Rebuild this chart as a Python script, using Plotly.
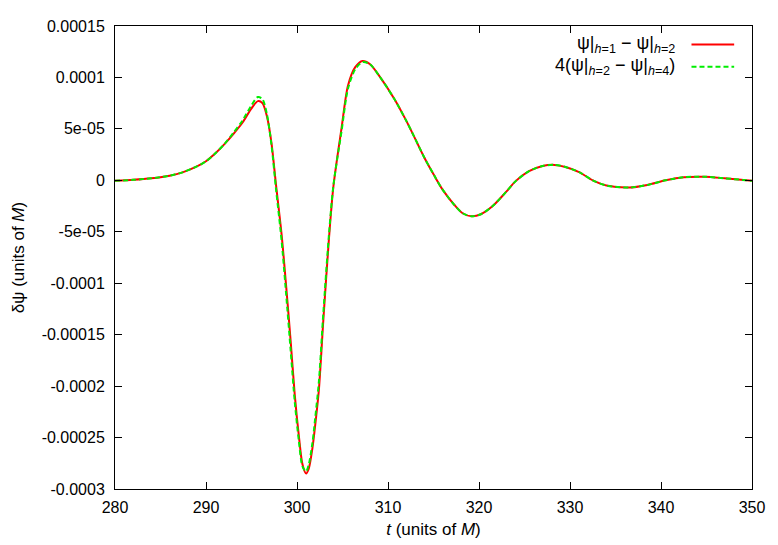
import plotly.graph_objects as go

# time samples (units of M)
t = [280, 282, 284, 286, 287.5, 289, 290, 291, 292, 293, 294, 295, 295.7, 296.2,
     296.7, 297.2, 297.7, 298.3, 298.8, 299.3, 299.75, 300.2, 300.6, 301.0, 301.3,
     301.7, 302.0, 302.4, 302.9, 303.5, 304.0, 304.9, 305.6, 306.4, 307.2, 308.0,
     309.0, 310.7, 312.0, 312.9, 314.0, 315.1, 316.0, 317.3, 318.2, 319.2, 320.2,
     321.5, 323.0, 324.0, 325.5, 327.0, 328.3, 329.5, 331.0, 332.5, 334.0, 336.5,
     338.5, 340.5, 342.5, 344.8, 347.0, 350.0]

# psi|h=1 - psi|h=2  (in units of 1e-5)
d12 = [-0.05, 0.05, 0.2, 0.45, 0.8, 1.35, 1.85, 2.6, 3.5, 4.5, 5.6, 7.0, 7.7, 7.5,
       6.2, 3.6, -0.5, -5.2, -10.2, -15.6, -20.8, -24.8, -27.6, -28.5, -28.0,
       -26.0, -23.8, -20.4, -13.5, -5.8, -0.6, 5.1, 9.2, 11.0, 11.6, 11.3,
       10.2, 7.9, 5.8, 4.2, 2.2, 0.44, -0.9, -2.4, -3.2, -3.5, -3.3,
       -2.5, -1.1, -0.1, 0.9, 1.4, 1.5, 1.3, 0.8, 0.0, -0.5, -0.7,
       -0.45, 0.0, 0.3, 0.35, 0.2, -0.05]

# 4(psi|h=2 - psi|h=4)  (in units of 1e-5)
d24 = [-0.05, 0.05, 0.2, 0.45, 0.8, 1.35, 1.85, 2.6, 3.5, 4.6, 5.8, 7.3, 8.1, 7.9,
       6.4, 3.4, -0.9, -5.8, -11.0, -16.5, -21.5, -25.3, -27.8, -28.3, -27.6,
       -25.5, -23.1, -19.6, -12.8, -5.4, -0.5, 4.8, 8.9, 10.8, 11.5, 11.3,
       10.2, 7.9, 5.8, 4.2, 2.2, 0.44, -0.9, -2.4, -3.2, -3.5, -3.3,
       -2.5, -1.1, -0.1, 0.9, 1.4, 1.5, 1.3, 0.8, 0.0, -0.5, -0.7,
       -0.45, 0.0, 0.3, 0.35, 0.2, -0.05]

x_ticks = [280, 290, 300, 310, 320, 330, 340, 350]
y_ticks = [0.00015, 0.0001, 5e-05, 0, -5e-05, -0.0001, -0.00015, -0.0002, -0.00025, -0.0003]
y_tick_text = ["0.00015", "0.0001", "5e-05", "0", "-5e-05", "-0.0001", "-0.00015",
               "-0.0002", "-0.00025", "-0.0003"]

legend_labels = ["ψ|<sub><i>h</i>=1</sub> − ψ|<sub><i>h</i>=2</sub>",
                 "4(ψ|<sub><i>h</i>=2</sub> − ψ|<sub><i>h</i>=4</sub>)"]
colors = ["#ff0000", "#00ee00"]

FONT = "Liberation Sans, Arial, sans-serif"

fig = go.Figure()
fig.add_trace(go.Scatter(
    x=t, y=[v * 1e-5 for v in d12], mode="lines",
    line={"color": colors[0], "width": 2, "shape": "spline", "smoothing": 0.8},
    showlegend=False,
))
fig.add_trace(go.Scatter(
    x=t, y=[v * 1e-5 for v in d24], mode="lines",
    line={"color": colors[1], "width": 2, "dash": "5px,3px", "shape": "spline", "smoothing": 0.8},
    showlegend=False,
))

# gnuplot-style key: text right-aligned, sample line on the right
key_y = [0.960, 0.912]
for lab, col, dash, ky in zip(legend_labels, colors, ["solid", "5px,3px"], key_y):
    fig.add_annotation(xref="paper", yref="paper", x=0.882, y=ky, text=lab,
                       showarrow=False, xanchor="right", yanchor="middle",
                       font={"size": 18, "color": "black", "family": FONT})
    fig.add_shape(type="line", xref="paper", yref="paper", x0=0.905, x1=0.972,
                  y0=ky, y1=ky, line={"color": col, "width": 2, "dash": dash})

axis_common = dict(
    showline=True, linecolor="black", linewidth=1, mirror="ticks",
    ticks="inside", ticklen=7, tickcolor="black", showgrid=False, zeroline=False,
    tickfont={"size": 16, "color": "black", "family": FONT},
)

# page has an 8px body margin, so the figure is sized to fit inside it
fig.update_layout(
    width=770, height=537,
    margin={"l": 105, "r": 26, "t": 10, "b": 47},
    plot_bgcolor="white", paper_bgcolor="white",
    font={"family": FONT, "color": "black"},
    xaxis=dict(axis_common, range=[280, 350], tickvals=x_ticks, ticklabelstandoff=4,
               title={"text": "<i>t</i> (units of <i>M</i>)", "font": {"size": 17}, "standoff": 7}),
    yaxis=dict(axis_common, range=[-0.0003, 0.00015], tickvals=y_ticks, ticktext=y_tick_text,
               ticklabelstandoff=6,
               title={"text": "δψ (units of <i>M</i>)", "font": {"size": 17}, "standoff": 12}),
)

fig.write_html("out.html")
